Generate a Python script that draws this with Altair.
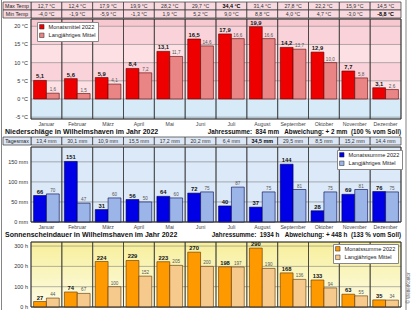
import altair as alt
import pandas as pd

months = ["Januar", "Februar", "März", "April", "Mai", "Juni", "Juli",
          "August", "September", "Oktober", "November", "Dezember"]

temp_2022 = [5.1, 5.6, 5.9, 8.4, 13.1, 16.5, 17.9, 19.9, 14.2, 12.9, 7.7, 3.1]
temp_lt = [1.6, 1.5, 4.1, 7.2, 11.7, 14.6, 16.6, 16.6, 13.7, 10.0, 5.8, 2.6]
temp_max = [12.7, 12.4, 17.9, 19.9, 28.2, 29.7, 34.4, 31.4, 27.8, 22.2, 15.9, 14.5]
temp_min = [-4.0, -1.9, -5.9, -1.3, 1.9, 5.2, 9.0, 8.8, 4.0, 4.7, -3.0, -8.8]

precip_2022 = [66, 151, 31, 56, 64, 72, 40, 37, 144, 28, 69, 76]
precip_lt = [70, 47, 60, 50, 60, 75, 87, 75, 81, 75, 81, 75]
precip_daymax = [13.4, 30.1, 10.9, 15.5, 17.2, 20.2, 6.4, 34.5, 29.5, 8.5, 15.2, 14.4]

sun_2022 = [27, 74, 224, 229, 223, 270, 198, 290, 168, 133, 63, 35]
sun_lt = [44, 67, 100, 152, 205, 200, 197, 190, 136, 94, 55, 34]

temp_ticks = [-5, 0, 5, 10, 15, 20]
precip_ticks = [0, 50, 100, 150]
sun_ticks = [0, 100, 200, 300]

FONT = "Liberation Sans"
NB = "\u00a0"
X0, X1 = 31, 401
xscale = alt.Scale(domain=months, range=[X0, X1], paddingInner=0, paddingOuter=0)
xoff_scale = alt.Scale(domain=["a", "b"], paddingInner=0, paddingOuter=0.2)
one = pd.DataFrame({"d": [0]})


def de(v, d=1):
    return f"{v:.{d}f}".replace(".", ",")


def bars_df(v22, vlt, names, fmt):
    rows = []
    for m, a, b in zip(months, v22, vlt):
        rows.append(dict(month=m, k="a", series=names[0], value=a, lab=fmt(a)))
        rows.append(dict(month=m, k="b", series=names[1], value=b, lab=fmt(b)))
    return pd.DataFrame(rows)


def panel(df, names, colors, strokec, ydom, yrange, ticks, tick_fmt, bg_layers, lxy):
    yscale = alt.Scale(domain=ydom, range=yrange, nice=False, zero=False)
    X = alt.X("month:N", scale=xscale, axis=None)
    XO = alt.XOffset("k:N", scale=xoff_scale)
    Y = alt.Y("value:Q", scale=yscale, axis=None)
    tick_df = pd.DataFrame({"v": ticks, "t": [tick_fmt(t) for t in ticks]})
    grid = alt.Chart(tick_df).mark_rule(color="#6a6a6a", strokeWidth=0.5).encode(
        y=alt.Y("v:Q", scale=yscale, axis=None), x=alt.value(X0), x2=alt.value(X1))
    cells = alt.Chart(pd.DataFrame({"month": months})).mark_rect(
        fillOpacity=0, stroke="#3a3a3a", strokeWidth=0.7).encode(
        x=X, y=alt.value(yrange[1]), y2=alt.value(yrange[0]))
    ticklab = alt.Chart(tick_df).mark_text(
        align="right", baseline="middle", fontSize=5.5, font=FONT, color="#333").encode(
        y=alt.Y("v:Q", scale=yscale, axis=None), x=alt.value(28), text="t:N")
    bars = alt.Chart(df).mark_bar(stroke=strokec, strokeWidth=0.6).encode(
        x=X, xOffset=XO, y=Y,
        color=alt.Color("series:N", title=None,
                        scale=alt.Scale(domain=names, range=colors),
                        legend=alt.Legend(orient="none", legendX=lxy[0], legendY=lxy[1],
                                          fillColor="white", strokeColor="#888",
                                          padding=2, symbolType="square", symbolSize=20,
                                          labelFontSize=5.6, labelFont=FONT,
                                          rowPadding=0.5, symbolStrokeColor="#222",
                                          symbolStrokeWidth=0.5, labelColor="#222")))
    lab_a = alt.Chart(df).transform_filter(alt.datum.k == "a").mark_text(
        baseline="bottom", dy=-1, fontSize=5.8, fontWeight="bold", font=FONT,
        color="#111").encode(x=X, xOffset=XO, y=Y, text="lab:N")
    lab_b = alt.Chart(df).transform_filter(alt.datum.k == "b").mark_text(
        baseline="bottom", dy=-1, fontSize=4.6, font=FONT,
        color="#555").encode(x=X, xOffset=XO, y=Y, text="lab:N")
    frame = alt.Chart(one).mark_rect(fillOpacity=0, stroke="#333", strokeWidth=0.8).encode(
        x=alt.value(X0), x2=alt.value(X1), y=alt.value(yrange[1]), y2=alt.value(yrange[0]))
    return alt.layer(*bg_layers, grid, cells, bars, lab_a, lab_b, ticklab, frame)


def header(rownames, texts, bold, yr, fill):
    rscale = alt.Scale(domain=rownames, range=yr, paddingInner=0, paddingOuter=0)
    rows = []
    for r, tl, bl in zip(rownames, texts, bold):
        for m, t, b in zip(months, tl, bl):
            rows.append(dict(month=m, row=r, text=t, bold=b))
    df = pd.DataFrame(rows)
    rdf = pd.DataFrame({"row": rownames})
    X = alt.X("month:N", scale=xscale, axis=None)
    R = alt.Y("row:N", scale=rscale, axis=None)
    cells = alt.Chart(df).mark_rect(fill=fill, stroke="#333", strokeWidth=0.7).encode(x=X, y=R)
    lcells = alt.Chart(rdf).mark_rect(fill=fill, stroke="#333", strokeWidth=0.7).encode(
        x=alt.value(3), x2=alt.value(X0), y=R)
    ltext = alt.Chart(rdf).mark_text(fontSize=5.2, font=FONT, color="#222").encode(
        x=alt.value(17), y=R, text="row:N")
    tn = alt.Chart(df).transform_filter(alt.datum.bold == False).mark_text(
        fontSize=5.2, font=FONT, color="#333").encode(x=X, y=R, text="text:N")
    tb = alt.Chart(df).transform_filter(alt.datum.bold == True).mark_text(
        fontSize=5.4, font=FONT, fontWeight="bold", color="#000").encode(x=X, y=R, text="text:N")
    return alt.layer(cells, lcells, ltext, tn, tb)


# ---------- temperature ----------
t_yr = [119, 19]
t_scale = alt.Scale(domain=[-5.5, 22], range=t_yr, nice=False, zero=False)
t_bands = pd.DataFrame({
    "lo": [-5.5, 0, 5, 10, 15, 20],
    "hi": [0, 5, 10, 15, 20, 22],
    "c": ["#d6eaf8", "#fce0e4", "#fad2d9", "#fce0e4", "#fad2d9", "#f8c8d1"]})
t_bg = alt.Chart(t_bands).mark_rect().encode(
    x=alt.value(X0), x2=alt.value(X1),
    y=alt.Y("lo:Q", scale=t_scale, axis=None), y2="hi:Q",
    fill=alt.Fill("c:N", scale=None))
temp_panel = panel(
    bars_df(temp_2022, temp_lt, ["Monatsmittel 2022", "Langjähriges Mittel"], de),
    ["Monatsmittel 2022", "Langjähriges Mittel"], ["#ee0000", "#e98585"], "#5a0000",
    [-5.5, 22], t_yr, temp_ticks, lambda t: f"{t} °C", [t_bg], (37, 22))
mx = max(temp_max)
mn = min(temp_min)
temp_header = header(
    ["Max Temp", "Min Temp"],
    [[de(v) + " °C" for v in temp_max], [de(v) + " °C" for v in temp_min]],
    [[v == mx for v in temp_max], [v == mn for v in temp_min]],
    [2, 18], "#f7d9df")

# ---------- precipitation ----------
p_yr = [222, 147]
p_bg = alt.Chart(one).mark_rect(fill="#dce9f8").encode(
    x=alt.value(X0), x2=alt.value(X1), y=alt.value(p_yr[1]), y2=alt.value(p_yr[0]))
precip_panel = panel(
    bars_df(precip_2022, precip_lt, ["Monatssumme 2022", "Langjähriges Mittel"],
            lambda v: str(v)),
    ["Monatssumme 2022", "Langjähriges Mittel"], ["#0000e6", "#9bb5e8"], "#00004a",
    [0, 187], p_yr, precip_ticks, lambda t: f"{t} mm", [p_bg], (337, 150))
pmx = max(precip_daymax)
precip_header = header(
    ["Tagesmax"],
    [[de(v) + " mm" for v in precip_daymax]],
    [[v == pmx for v in precip_daymax]],
    [137, 145], "#dde6f4")

# ---------- sunshine ----------
s_yr = [307, 242]
s_bg = alt.Chart(one).mark_rect(fill=alt.Gradient(
    gradient="linear", x1=0, x2=0, y1=1, y2=0,
    stops=[alt.GradientStop(color="#fdfce6", offset=0),
           alt.GradientStop(color="#f7ef9a", offset=1)])).encode(
    x=alt.value(X0), x2=alt.value(X1), y=alt.value(s_yr[1]), y2=alt.value(s_yr[0]))
sun_panel = panel(
    bars_df(sun_2022, sun_lt, ["Monatssumme 2022", "Langjähriges Mittel"],
            lambda v: str(v)),
    ["Monatssumme 2022", "Langjähriges Mittel"], ["#ff9900", "#f6c98c"], "#5a3000",
    [0, 320], s_yr, sun_ticks, lambda t: f"{t} h", [s_bg], (333, 244))

# ---------- texts ----------
outer = alt.Chart(one).mark_rect(fill="white", stroke="#666", strokeWidth=0.8).encode(
    x=alt.value(1.5), x2=alt.value(406), y=alt.value(-2), y2=alt.value(312))
mdf = pd.DataFrame({"month": months})
mlab_t = alt.Chart(mdf).mark_text(fontSize=5.2, font=FONT, color="#444").encode(
    x=alt.X("month:N", scale=xscale, axis=None), y=alt.value(124), text="month:N")
mlab_p = alt.Chart(mdf).mark_text(fontSize=5.2, font=FONT, color="#444").encode(
    x=alt.X("month:N", scale=xscale, axis=None), y=alt.value(227), text="month:N")

sp2 = " " + NB
sp3 = " " + NB + NB
titles = pd.DataFrame({
    "x": [5, 5, 401, 401],
    "y": [132, 235, 132, 235],
    "t": ["Niederschläge in Wilhelmshaven im Jahr 2022",
          "Sonnenscheindauer in Wilhelmshaven im Jahr 2022",
          f"Jahressumme:{sp2}834 mm{sp3}Abweichung: + 2 mm{sp2}(100 % vom Soll)",
          f"Jahressumme:{sp2}1934 h{sp3}Abweichung: + 448 h{sp2}(133 % vom Soll)"],
    "a": ["l", "l", "r", "r"]})
tl = alt.Chart(titles).transform_filter(alt.datum.a == "l").mark_text(
    align="left", baseline="middle", fontSize=7, fontWeight="bold", font=FONT,
    color="#111").encode(x=alt.X("x:Q", scale=None), y=alt.Y("y:Q", scale=None), text="t:N")
tr = alt.Chart(titles).transform_filter(alt.datum.a == "r").mark_text(
    align="right", baseline="middle", fontSize=6.3, fontWeight="bold", font=FONT,
    color="#111").encode(x=alt.X("x:Q", scale=None), y=alt.Y("y:Q", scale=None), text="t:N")
copy = alt.Chart(one).mark_text(angle=270, fontSize=4.5, font=FONT, color="#555").encode(
    x=alt.value(409), y=alt.value(288), text=alt.value("© WetterKontor"))

chart = alt.layer(
    outer, temp_panel, temp_header, precip_panel, precip_header, sun_panel,
    mlab_t, mlab_p, tl, tr, copy
).resolve_scale(
    y="independent", color="independent"
).properties(
    width=414, height=310, padding=0,
    autosize=alt.AutoSizeParams(type="none"), background="white"
).configure_view(stroke=None)

chart.save("out.html", embed_options={"renderer": "svg", "actions": False})
